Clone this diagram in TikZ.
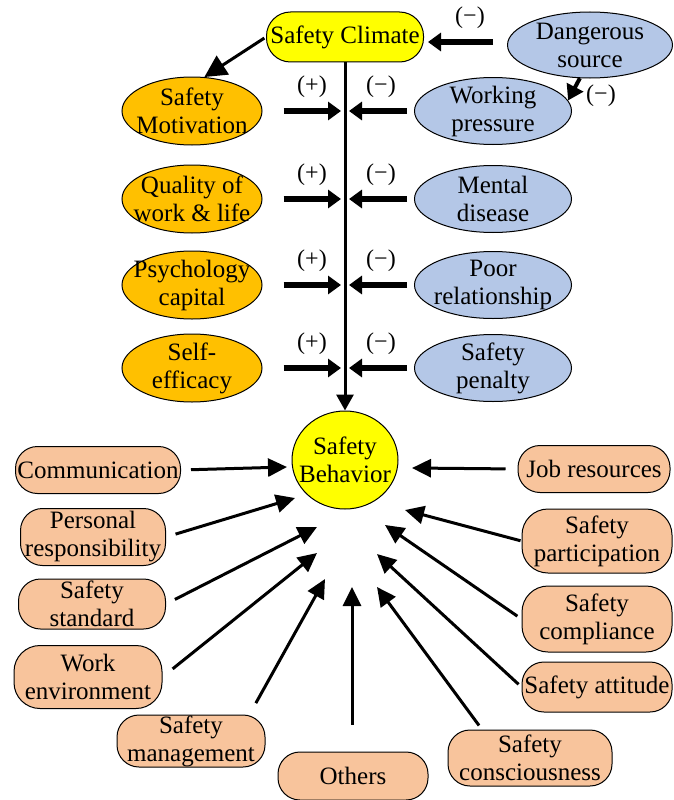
\documentclass[tikz,border=0pt]{standalone}
\usepackage{fontspec}
\setmainfont{Liberation Serif}
\usetikzlibrary{shapes.geometric,arrows.meta}
\definecolor{cyel}{HTML}{FFFF00}
\definecolor{corg}{HTML}{FFC000}
\definecolor{cblu}{HTML}{B4C7E7}
\definecolor{csal}{HTML}{F8C49C}
\begin{document}
\begin{tikzpicture}[x=1pt,y=-1pt,
  txt/.style={font=\fontsize{25}{28}\selectfont, align=center},
  goodov/.style={txt, ellipse, draw, line width=1pt, fill=corg, inner sep=-18pt, minimum width=140pt, minimum height=68pt},
  badov/.style={txt, ellipse, draw, line width=1pt, fill=cblu, inner sep=-18pt, minimum width=157pt, minimum height=67pt},
  pill/.style={txt, rectangle, rounded corners=22pt, draw, line width=1pt, fill=csal, inner xsep=0pt, inner ysep=0pt},
  sign/.style={font=\fontsize{24}{26}\selectfont, inner sep=0pt},
  fatarr/.style={line width=6pt, -{Triangle[length=13pt,width=18pt]}},
  thinarr/.style={line width=3pt, -{Triangle[length=19pt,width=18pt]}},
]
\useasboundingbox (0,0) rectangle (674,800);

% top
\node[txt, rectangle, rounded corners=24pt, draw, line width=1pt, fill=cyel, minimum width=157pt, minimum height=50pt, inner sep=0pt] (sc) at (345,37) {Safety Climate};
\node[badov, minimum width=165pt, minimum height=66pt] (ds) at (590,45) {Dangerous\\source};
\node[badov] (wp) at (493,111) {Working\\pressure};
\node[badov] (md) at (493,199) {Mental\\disease};
\node[badov] (pr) at (493,285) {Poor\\relationship};
\node[badov] (sp) at (493,368) {Safety\\penalty};
\node[goodov] (sm) at (192,111) {Safety\\Motivation};
\node[goodov] (qw) at (192,199) {Quality of\\work \& life};
\node[goodov] (pc) at (192,285) {Psychology\\capital};
\node[goodov] (se) at (192,368) {Self-\\efficacy};

\node[txt, ellipse, draw, line width=1pt, fill=cyel, inner sep=-18pt, minimum width=106pt, minimum height=98pt] (sb) at (345,460) {Safety\\Behavior};

% vertical line
\draw[line width=3pt, -{Triangle[length=16pt,width=17pt]}] (sc.south) -- (sb.north);

% coordinates on the line
\foreach \n/\y in {1/111,2/199,3/285,4/368}{
  \coordinate (L\n) at (341,\y);
  \coordinate (R\n) at (349,\y);
  \node[sign] (p\n) at (312,\y-24) {(+)};
  \node[sign] (m\n) at (381,\y-24) {(−)};
}
\draw[fatarr, shorten <=21pt] (sm.east) -- (L1);
\draw[fatarr, shorten <=21pt] (qw.east) -- (L2);
\draw[fatarr, shorten <=21pt] (pc.east) -- (L3);
\draw[fatarr, shorten <=21pt] (se.east) -- (L4);
\draw[fatarr, shorten <=7pt] (wp.west) -- (R1);
\draw[fatarr, shorten <=7pt] (md.west) -- (R2);
\draw[fatarr, shorten <=7pt] (pr.west) -- (R3);
\draw[fatarr, shorten <=7pt] (sp.west) -- (R4);

% dangerous source arrows
\coordinate (dsout) at (493,42);
\draw[fatarr, shorten >=4pt] (dsout) -- (sc.east |- dsout);
\node[sign] (mds) at (470,18) {(−)};
\draw[line width=4pt, -{Triangle[length=15pt,width=18pt]}] (ds.253) -- (wp.8);
\node[sign] (mwp) at (601,96) {(−)};

% climate -> motivation
\draw[line width=3pt, -{Triangle[length=22pt,width=22pt]}, shorten <=2pt] (sc.west) -- (sm.70);

% bottom nodes
\node[pill, minimum width=165pt, minimum height=47pt] (comm) at (98,470) {Communication};
\node[pill, minimum width=145pt, minimum height=57pt] (prs) at (93,537) {Personal\\responsibility};
\node[pill, minimum width=147pt, minimum height=50pt] (ss) at (92,604) {Safety\\standard};
\node[pill, minimum width=148pt, minimum height=63pt, rounded corners=26pt] (we) at (88,677) {Work\\environment};
\node[pill, minimum width=148pt, minimum height=52pt] (sman) at (191,741) {Safety\\management};
\node[pill, minimum width=150pt, minimum height=48pt] (oth) at (353,776) {Others};
\node[pill, minimum width=164pt, minimum height=56pt] (scons) at (530,758) {Safety\\consciousness};
\node[pill, minimum width=150pt, minimum height=50pt] (satt) at (597,687) {Safety attitude};
\node[pill, minimum width=150pt, minimum height=66pt, rounded corners=26pt] (scomp) at (597,619) {Safety\\compliance};
\node[pill, minimum width=150pt, minimum height=64pt, rounded corners=26pt] (spart) at (597,541) {Safety\\participation};
\node[pill, minimum width=152pt, minimum height=47pt] (job) at (594,469) {Job resources};

\coordinate (tComm) at (287,467);
\coordinate (tJob) at (412,468);
\coordinate (tPrs) at (295,498);
\coordinate (tSs) at (317,527);
\coordinate (tWe) at (317,553);
\coordinate (tSman) at (325,579);
\coordinate (tOth) at (352,587);
\coordinate (tScons) at (377,587);
\coordinate (tSatt) at (377,554);
\coordinate (tScomp) at (385,525);
\coordinate (tSpart) at (405,510);

\draw[thinarr, shorten <=10pt] (comm.east) -- (tComm);
\draw[thinarr, shorten <=12pt] (job.west) -- (tJob);
\draw[thinarr, shorten <=10pt] (prs.east) -- (tPrs);
\draw[thinarr, shorten <=10pt] (ss.east) -- (tSs);
\draw[thinarr, shorten <=13pt] (we.east) -- (tWe);
\draw[thinarr, shorten <=13pt] ([xshift=-16pt]sman.north east) -- (tSman);
\draw[thinarr, shorten <=27pt] (oth.north -| tOth) -- (tOth);
\draw[thinarr, shorten <=5pt] ([xshift=-48pt]scons.north) -- (tScons);
\draw[thinarr, shorten <=4pt] (satt.west) -- (tSatt);
\draw[thinarr, shorten <=5pt] (scomp.west) -- (tScomp);
\draw[thinarr, shorten <=1pt] (spart.west) -- (tSpart);
\end{tikzpicture}
\end{document}
